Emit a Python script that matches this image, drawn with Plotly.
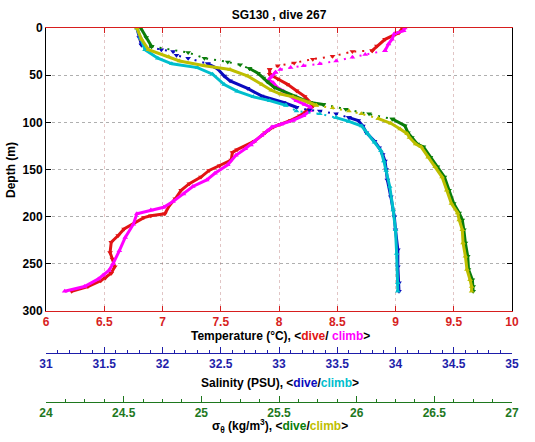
import plotly.graph_objects as go

# ---------------- data ----------------
temp_dive_depth = [0, 5, 12, 19, 24, 25, 30, 33, 37, 40, 44, 49, 54, 59.5, 66.5, 72.5, 79, 83,
                   87.5, 93, 98, 102, 105, 111, 120, 129, 132, 140, 146, 151, 158, 165, 172,
                   181, 188, 197, 199, 201, 213, 220, 227, 238, 245, 253, 260, 265, 268, 274, 279]
temp_dive = [9.06, 9.03, 8.91, 8.84, 8.80, 8.63, 8.46, 8.29, 8.13, 7.99, 7.92, 7.92, 7.99, 8.07,
             8.15, 8.22, 8.27, 8.29, 8.24, 8.18, 8.10, 8.01, 7.95, 7.88, 7.79, 7.64, 7.60, 7.59,
             7.49, 7.40, 7.33, 7.23, 7.16, 7.11, 7.06, 7.02, 6.90, 6.84, 6.67, 6.62, 6.56, 6.55,
             6.57, 6.59, 6.56, 6.51, 6.47, 6.36, 6.22]

temp_climb_depth = [0, 3, 6, 12, 17, 24, 28, 31, 35, 38, 40, 42, 44, 47, 52, 55, 58, 62.5, 67, 71,
                    77, 81, 84, 87.5, 93, 98, 102, 105, 109, 114, 120, 124, 128, 135, 145, 154,
                    161, 168, 176, 184, 190, 193, 197, 208, 222, 236, 250, 257, 262, 266, 274, 279]
temp_climb = [9.08, 9.07, 8.99, 8.97, 8.94, 8.91, 8.74, 8.63, 8.49, 8.35, 8.21, 8.10, 8.01, 7.97,
              7.93, 7.91, 7.95, 7.98, 8.04, 8.08, 8.15, 8.22, 8.27, 8.27, 8.21, 8.12, 8.02, 7.94,
              7.90, 7.85, 7.79, 7.76, 7.71, 7.63, 7.56, 7.45, 7.38, 7.26, 7.18, 7.09, 7.01, 6.90,
              6.78, 6.75, 6.68, 6.63, 6.575, 6.54, 6.49, 6.45, 6.33, 6.16]

sal_dive_depth = [0, 10, 18, 23, 25, 29, 32, 38, 43, 51, 56, 64, 72, 79, 84, 87, 88, 91, 95, 98,
                  104, 111, 120, 127, 134, 141, 150, 161, 179, 200, 214, 235, 253, 270, 279]
sal_dive = [31.78, 31.80, 31.82, 31.99, 32.09, 32.12, 32.22, 32.39, 32.47, 32.53, 32.58, 32.73,
            32.85, 33.04, 33.15, 33.26, 33.35, 33.49, 33.60, 33.68, 33.72, 33.75, 33.82, 33.86,
            33.89, 33.91, 33.92, 33.93, 33.96, 33.99, 34.00, 34.02, 34.02, 34.03, 34.03]

sal_climb_depth = [0, 10, 23, 32, 38, 42, 49, 60, 67, 73, 77, 82, 88, 91, 95, 99, 104, 112, 121,
                   130, 141, 151, 168, 193, 214, 239, 270, 279]
sal_climb = [31.78, 31.81, 31.85, 31.96, 32.08, 32.30, 32.43, 32.53, 32.64, 32.78, 32.92, 33.06,
             33.15, 33.35, 33.49, 33.60, 33.71, 33.76, 33.82, 33.875, 33.90, 33.92, 33.95, 33.98,
             34.00, 34.01, 34.02, 34.02]

sig_dive_depth = [0, 10, 19.5, 26, 32, 36, 39, 43, 48, 53, 57, 63, 72, 79, 81, 86, 91, 96.5,
                  103.5, 111, 116, 123, 126, 137, 147, 158, 172, 186, 196, 203.5, 214, 228, 242,
                  256, 267, 274, 279]
sig_dive = [24.61, 24.645, 24.68, 24.915, 25.02, 25.17, 25.25, 25.31, 25.365, 25.40, 25.425,
            25.47, 25.60, 25.70, 25.785, 25.93, 26.08, 26.23, 26.31, 26.33, 26.355, 26.39, 26.43,
            26.475, 26.52, 26.565, 26.595, 26.625, 26.66, 26.68, 26.69, 26.70, 26.715, 26.72,
            26.745, 26.75, 26.75]

sig_climb_depth = [0, 12, 23, 30.5, 35, 40, 44, 51, 60, 66, 70, 73, 79, 82, 84.6, 88, 91, 96,
                   101, 107, 112, 116, 123, 126, 137, 147, 158, 172, 186, 196, 203.5, 214, 228,
                   242, 256, 267, 274, 279]
sig_climb = [24.585, 24.615, 24.66, 24.79, 24.86, 25.02, 25.185, 25.30, 25.39, 25.45, 25.51,
             25.59, 25.695, 25.74, 25.845, 25.95, 26.03, 26.14, 26.22, 26.28, 26.325, 26.34,
             26.38, 26.415, 26.46, 26.505, 26.55, 26.58, 26.61, 26.65, 26.66, 26.68, 26.685,
             26.70, 26.71, 26.73, 26.74, 26.74]

temp_ticks = [6, 6.5, 7, 7.5, 8, 8.5, 9, 9.5, 10]
sal_ticks = [31, 31.5, 32, 32.5, 33, 33.5, 34, 34.5, 35]
sig_ticks = [24, 24.5, 25, 25.5, 26, 26.5, 27]
depth_ticks = [0, 50, 100, 150, 200, 250, 300]

# depth intervals where samples are sparse (drawn dotted, as in the reference)
temp_dive_sparse = [(24, 44)]
temp_climb_sparse = [(24, 47)]
sal_dive_sparse = [(18, 38), (84, 95)]
sal_climb_sparse = [(82, 95)]
sig_dive_sparse = [(19.5, 43), (81, 96.5)]
sig_climb_sparse = [(82, 96)]

# ---------------- styling ----------------
RED = "rgb(225,20,20)"
MAG = "rgb(255,0,255)"
BLUE = "rgb(10,10,190)"
CYAN = "rgb(0,190,205)"
GREEN = "rgb(10,125,10)"
YEL = "rgb(190,190,0)"
AX_RED = "rgb(215,30,30)"
AX_BLUE = "rgb(30,30,170)"
AX_GREEN = "rgb(30,120,30)"
FONT = "Liberation Sans, Arial, sans-serif"

fig = go.Figure()


def add(x, y, color, xa, sym, sparse):
    def is_sparse(d0, d1):
        return any(a <= d0 and d1 <= b for a, b in sparse)

    runs = []
    for i in range(len(y) - 1):
        s = is_sparse(y[i], y[i + 1])
        if runs and runs[-1][0] == s:
            runs[-1][1].append(i + 1)
        else:
            runs.append([s, [i, i + 1]])
    for s, idx in runs:
        fig.add_trace(go.Scatter(
            x=[x[i] for i in idx], y=[y[i] for i in idx], xaxis=xa, yaxis="y",
            mode="lines+markers",
            line=dict(color=color, width=2 if s else 3, dash="2px,6px" if s else "solid"),
            marker=dict(color=color, size=5, symbol=sym),
            showlegend=False, hoverinfo="skip"))


add(temp_dive, temp_dive_depth, RED, "x", "triangle-down", temp_dive_sparse)
add(temp_climb, temp_climb_depth, MAG, "x", "triangle-up", temp_climb_sparse)
add(sal_dive, sal_dive_depth, BLUE, "x2", "triangle-down", sal_dive_sparse)
add(sal_climb, sal_climb_depth, CYAN, "x2", "triangle-up", sal_climb_sparse)
add(sig_dive, sig_dive_depth, GREEN, "x3", "triangle-down", sig_dive_sparse)
add(sig_climb, sig_climb_depth, YEL, "x3", "triangle-up", sig_climb_sparse)

W, H = 535, 442
mt, mb, ml, mr = 28, 30, 46, 23
ph = H - mt - mb
pw = W - ml - mr


def py(pix):
    return (H - mb - pix) / ph


def px(pix):
    return (pix - ml) / pw


tickfont = lambda c: dict(family=FONT, size=12, color=c, weight="bold")

fig.update_layout(
    width=W, height=H,
    margin=dict(l=ml, r=mr, t=mt, b=mb, autoexpand=False),
    paper_bgcolor="white", plot_bgcolor="white",
    font=dict(family=FONT, size=12, color="black"),
    title=dict(text="<b>SG130 , dive 267</b>", x=(46 + 512) / 2 / W, xanchor="center",
               y=1 - 15 / H, yanchor="middle", yref="container",
               font=dict(family=FONT, size=12, color="black")),
    xaxis=dict(domain=[0, 1], range=[6, 10], tickvals=temp_ticks,
               ticktext=[f"{v:g}" for v in temp_ticks], automargin=False,
               showline=True, linecolor=AX_RED, linewidth=1, mirror="ticks",
               ticks="inside", ticklen=5, tickcolor=AX_RED, tickfont=tickfont(AX_RED),
               showgrid=True, gridcolor="rgba(200,150,150,0.55)", griddash="dot", gridwidth=1,
               zeroline=False, anchor="y"),
    yaxis=dict(domain=[py(311), 1], range=[300, 0], tickvals=depth_ticks, automargin=False,
               showline=True, linecolor="black", linewidth=1, mirror="ticks",
               ticks="inside", ticklen=5, tickcolor="black", tickfont=tickfont("black"),
               showgrid=True, gridcolor="rgba(110,110,110,0.55)", griddash="dot", gridwidth=1,
               zeroline=False),
    xaxis2=dict(overlaying="x", anchor="free", position=py(353), side="bottom",
                range=[31, 35], tickvals=sal_ticks, ticktext=[f"{v:g}" for v in sal_ticks],
                automargin=False,
                showline=True, linecolor=AX_BLUE, linewidth=1,
                ticks="inside", ticklen=6, tickcolor=AX_BLUE, tickfont=tickfont(AX_BLUE),
                minor=dict(dtick=0.1, tick0=31, ticks="inside", ticklen=3, tickcolor=AX_BLUE,
                           showgrid=False),
                showgrid=False, zeroline=False),
    xaxis3=dict(overlaying="x", anchor="free", position=py(402), side="bottom",
                range=[24, 27], tickvals=sig_ticks, ticktext=[f"{v:g}" for v in sig_ticks],
                automargin=False,
                showline=True, linecolor=AX_GREEN, linewidth=1,
                ticks="inside", ticklen=6, tickcolor=AX_GREEN, tickfont=tickfont(AX_GREEN),
                minor=dict(dtick=0.125, tick0=24, ticks="inside", ticklen=3, tickcolor=AX_GREEN,
                           showgrid=False),
                showgrid=False, zeroline=False),
)


def ann(text, ypix, xpix=280, angle=0):
    fig.add_annotation(text=text, xref="paper", yref="paper", x=px(xpix),
                       y=py(ypix), xanchor="center", yanchor="middle", showarrow=False,
                       textangle=angle,
                       font=dict(family=FONT, size=12, color="black"))


ann("<b>Temperature (°C), &lt;<span style='color:%s'>dive</span>/ "
    "<span style='color:%s'>climb</span>&gt;</b>" % (RED, MAG), 336)
ann("<b>Salinity (PSU), &lt;<span style='color:%s'>dive</span>/"
    "<span style='color:%s'>climb</span>&gt;</b>" % (BLUE, CYAN), 383)
ann("<b>σ<sub>θ</sub> (kg/m<sup>3</sup>), &lt;<span style='color:%s'>dive</span>/"
    "<span style='color:%s'>climb</span>&gt;</b>" % (GREEN, YEL), 426)
ann("<b>Depth (m)</b>", 170, xpix=11, angle=-90)

fig.write_html("out.html", config={"displayModeBar": False},
               post_script="document.body.style.margin='0';"
                           "document.body.style.overflow='hidden';")
